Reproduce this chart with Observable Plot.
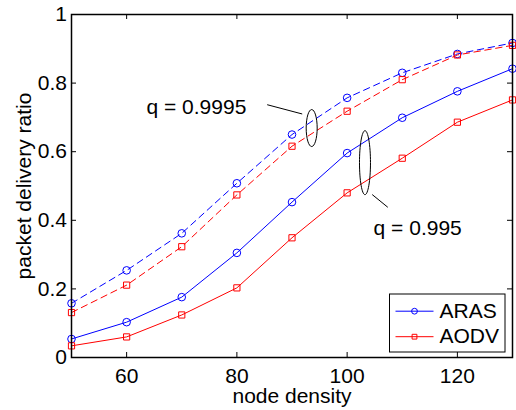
<!DOCTYPE html>
<html>
<head>
<meta charset="utf-8">
<script src="https://cdn.jsdelivr.net/npm/d3@7"></script>
<script src="https://cdn.jsdelivr.net/npm/@observablehq/plot@0.6"></script>
<style>
  html, body { margin: 0; padding: 0; background: white; }
  #chart { width: 516px; height: 410px; }
</style>
</head>
<body>
<div id="chart"></div>
<script>
// ---- data ----
const densities = [50, 60, 70, 80, 90, 100, 110, 120, 130];
const arasHigh = [0.158, 0.254, 0.362, 0.508, 0.650, 0.757, 0.830, 0.885, 0.917]; // q = 0.9995
const aodvHigh = [0.131, 0.211, 0.323, 0.474, 0.616, 0.718, 0.810, 0.882, 0.910]; // q = 0.9995
const arasLow  = [0.054, 0.103, 0.176, 0.305, 0.453, 0.596, 0.699, 0.776, 0.842]; // q = 0.995
const aodvLow  = [0.034, 0.060, 0.124, 0.203, 0.349, 0.480, 0.581, 0.686, 0.751]; // q = 0.995
const protocols = ["ARAS", "AODV"];
const xTicks = [60, 80, 100, 120];
const yTicks = [0, 0.2, 0.4, 0.6, 0.8, 1];
const xLabel = "node density";
const yLabel = "packet delivery ratio";
const qLabels = ["q = 0.9995", "q = 0.995"];

// ---- build rows ----
const series = [
  {protocol: "ARAS", q: "high", values: arasHigh},
  {protocol: "AODV", q: "high", values: aodvHigh},
  {protocol: "ARAS", q: "low", values: arasLow},
  {protocol: "AODV", q: "low", values: aodvLow}
];
const rows = series.flatMap(s => densities.map((d, i) => ({x: d, y: s.values[i], protocol: s.protocol, q: s.q})));

const colors = {ARAS: "#0000ff", AODV: "#ff0000"};
const symbols = {ARAS: "circle", AODV: "square"};

function ellipseSymbol(a, b) {
  const k = 0.5523;
  return {draw(ctx) {
    ctx.moveTo(a, 0);
    ctx.bezierCurveTo(a, b * k, a * k, b, 0, b);
    ctx.bezierCurveTo(-a * k, b, -a, b * k, -a, 0);
    ctx.bezierCurveTo(-a, -b * k, -a * k, -b, 0, -b);
    ctx.bezierCurveTo(a * k, -b, a, -b * k, a, 0);
    ctx.closePath();
  }};
}
const legendLine = {draw(ctx) { ctx.moveTo(-19, 0); ctx.lineTo(19, 0); }};

// annotation geometry (in data units)
const annotEllipses = [
  {x: 93.57, y: 0.669, a: 5.5, b: 18.5},
  {x: 103.24, y: 0.568, a: 5.5, b: 32}
];
const annotLinks = [
  {x1: 85.5, y1: 0.737, x2: 91.85, y2: 0.710},
  {x1: 104.55, y1: 0.475, x2: 107.38, y2: 0.438}
];
const annotTexts = [
  {x: 63.6, y: 0.730, text: qLabels[0]},
  {x: 104.8, y: 0.378, text: qLabels[1]}
];

const W = 516, H = 410;
const mL = 71, mR = 4, mT = 14, mB = 53;
const innerW = W - mL - mR;
const innerH = H - mT - mB;
const tickLen = 5;
const font = "21px";

const marks = [];
// inward ticks on all four sides
marks.push(Plot.tickX(xTicks, {x: d => d, insetTop: innerH - tickLen, stroke: "black"}));
marks.push(Plot.tickX(xTicks, {x: d => d, insetBottom: innerH - tickLen, stroke: "black"}));
marks.push(Plot.tickY(yTicks, {y: d => d, insetRight: innerW - tickLen, stroke: "black"}));
marks.push(Plot.tickY(yTicks, {y: d => d, insetLeft: innerW - tickLen, stroke: "black"}));

// tick labels
marks.push(Plot.text(xTicks, {x: d => d, frameAnchor: "bottom", dy: 10.5, text: d => String(d), textAnchor: "middle", lineAnchor: "top", fontSize: font, fill: "black"}));
marks.push(Plot.text(yTicks, {y: d => d, frameAnchor: "left", dx: -4.5, text: d => String(d), textAnchor: "end", lineAnchor: "middle", fontSize: font, fill: "black"}));

// series lines and markers
for (const s of series) {
  const data = rows.filter(r => r.protocol === s.protocol && r.q === s.q);
  marks.push(Plot.line(data, {
    x: "x", y: "y", stroke: colors[s.protocol], strokeWidth: 1,
    strokeDasharray: s.q === "high" ? "6.5,4.5" : null
  }));
  marks.push(Plot.dot(data, {
    x: "x", y: "y", stroke: colors[s.protocol], fill: "none", strokeWidth: 1,
    symbol: symbols[s.protocol], r: s.protocol === "ARAS" ? 3.8 : 3.5
  }));
}

// annotations
for (const e of annotEllipses) {
  marks.push(Plot.dot([e], {x: "x", y: "y", symbol: ellipseSymbol(e.a, e.b), r: 1, stroke: "black", fill: "none", strokeWidth: 1}));
}
marks.push(Plot.link(annotLinks, {x1: "x1", y1: "y1", x2: "x2", y2: "y2", stroke: "black", strokeWidth: 1}));
marks.push(Plot.text(annotTexts, {x: "x", y: "y", text: "text", textAnchor: "start", lineAnchor: "middle", fontSize: font, fill: "black"}));

// frame
marks.push(Plot.frame({stroke: "black", strokeWidth: 1.5}));

// legend (box anchored to bottom-right of frame)
marks.push(Plot.frame({fill: "white", stroke: "black", strokeWidth: 1,
  insetLeft: 389 - mL, insetRight: (W - mR) - 504.5, insetTop: 293.5 - mT, insetBottom: (H - mB) - 351.5}));
protocols.forEach((p, i) => {
  const dy = (i === 0 ? 310.7 : 336.2) - (H - mB);
  const dx = 414 - (W - mR);
  marks.push(Plot.dot([p], {frameAnchor: "bottom-right", dx, dy, symbol: legendLine, r: 1, stroke: colors[p], fill: "none", strokeWidth: 1}));
  marks.push(Plot.dot([p], {frameAnchor: "bottom-right", dx, dy, symbol: symbols[p], r: p === "ARAS" ? 2.9 : 2.7, stroke: colors[p], fill: "none", strokeWidth: 1}));
  marks.push(Plot.text([p], {frameAnchor: "bottom-right", dx: 439 - (W - mR), dy, text: d => d, textAnchor: "start", lineAnchor: "middle", fontSize: font, fill: "black"}));
});

// axis titles
marks.push(Plot.text([xLabel], {frameAnchor: "bottom", dy: 45, text: d => d, textAnchor: "middle", lineAnchor: "bottom", fontSize: font, fill: "black"}));
marks.push(Plot.text([yLabel], {frameAnchor: "left", dx: 30 - mL, rotate: -90, text: d => d, textAnchor: "middle", lineAnchor: "bottom", fontSize: font, fill: "black"}));

const plot = Plot.plot({
  width: W, height: H,
  marginLeft: mL, marginRight: mR, marginTop: mT, marginBottom: mB,
  style: {fontFamily: "'Liberation Sans', Arial, sans-serif", fontSize: "21px", background: "white", color: "black"},
  x: {domain: [50, 130], axis: null},
  y: {domain: [0, 1], axis: null},
  marks
});
document.getElementById("chart").appendChild(plot);
</script>
</body>
</html>
